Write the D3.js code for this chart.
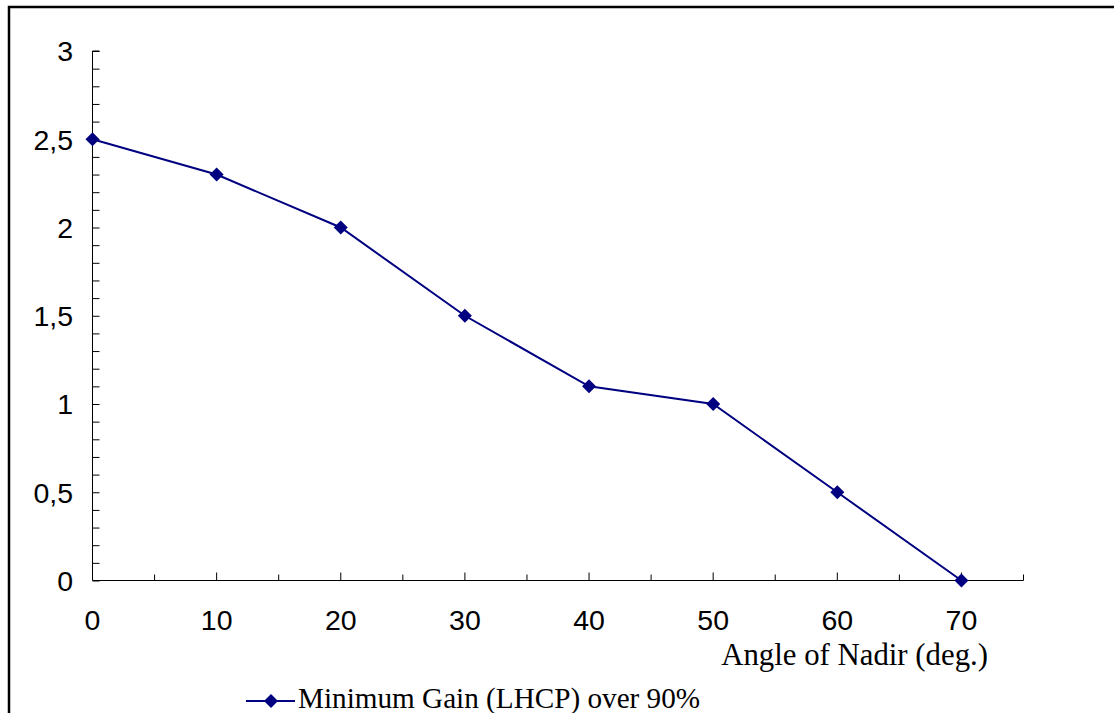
<!DOCTYPE html>
<html><head><meta charset="utf-8">
<script src="https://cdn.jsdelivr.net/npm/d3@7"></script>
<style>html,body{margin:0;padding:0;background:#fff;}svg{display:block;}</style>
</head><body>
<script>
const angles = [0, 10, 20, 30, 40, 50, 60, 70];
const gains = [2.5, 2.3, 2.0, 1.5, 1.1, 1.0, 0.5, 0.0];
const yTickValues = [0, 0.5, 1, 1.5, 2, 2.5, 3];
const xTickValues = [0, 10, 20, 30, 40, 50, 60, 70];
const seriesName = "Minimum Gain (LHCP) over 90%";
const xTitle = "Angle of Nadir (deg.)";

const W = 1114, H = 713;
const svg = d3.select("body").append("svg").attr("width", W).attr("height", H);

// outer frame
svg.append("path").attr("d", `M9,${H+5} L9,7 L${W+5},7`).attr("fill", "none")
  .attr("stroke", "#000").attr("stroke-width", 2.5);

const x = d3.scaleLinear().domain([0, 75]).range([92.5, 1023.5]);
const y = d3.scaleLinear().domain([0, 3]).range([580.5, 51]);

// y axis
const yAxis = d3.axisRight(y).tickValues(d3.range(0, 3.0001, 0.1)).tickSize(7).tickFormat("");
const gy = svg.append("g").attr("transform", `translate(${x(0)},0)`).call(yAxis);
gy.select(".domain").attr("d", `M7,${y(3)}H0V${y(0)}`);
gy.selectAll("line").attr("stroke", "#000");
gy.selectAll("path").attr("stroke", "#000");

svg.append("g").selectAll("text").data(yTickValues).join("text")
  .attr("x", 73).attr("y", d => y(d)).attr("dy", "0.36em")
  .attr("text-anchor", "end").attr("font-family", "Liberation Sans, Arial, sans-serif")
  .attr("font-size", 28.5).text(d => String(d).replace(".", ","));

// x axis
const xMinor = d3.range(5, 75.001, 10);
const gx = svg.append("g").attr("transform", `translate(0,${y(0)})`);
gx.append("line").attr("x1", x(0)).attr("x2", x(75)).attr("stroke", "#000");
gx.selectAll("line.maj").data(xTickValues.filter(d => d > 0)).join("line").attr("class", "maj")
  .attr("x1", d => x(d)).attr("x2", d => x(d)).attr("y1", 0).attr("y2", -8).attr("stroke", "#000");
gx.selectAll("line.min").data(xMinor).join("line").attr("class", "min")
  .attr("x1", d => x(d)).attr("x2", d => x(d)).attr("y1", 0).attr("y2", -6).attr("stroke", "#000");
svg.append("g").selectAll("text").data(xTickValues).join("text")
  .attr("x", d => x(d)).attr("y", 630)
  .attr("text-anchor", "middle").attr("font-family", "Liberation Sans, Arial, sans-serif")
  .attr("font-size", 28.5).text(d => d);

svg.append("text").attr("x", 988).attr("y", 665).attr("text-anchor", "end")
  .attr("font-family", "Liberation Serif, Times New Roman, serif").attr("font-size", 30.8).text(xTitle);

// series
const data = angles.map((a, i) => ({a, g: gains[i]}));
svg.append("path").datum(data).attr("fill", "none").attr("stroke", "#000080").attr("stroke-width", 2)
  .attr("d", d3.line().x(d => x(d.a)).y(d => y(d.g)));
const diamond = s => `M0,${-s}L${s},0L0,${s}L${-s},0Z`;
svg.append("g").selectAll("path").data(data).join("path")
  .attr("transform", d => `translate(${x(d.a)},${y(d.g)})`)
  .attr("d", diamond(7)).attr("fill", "#000080");

// legend
const lg = svg.append("g");
lg.append("line").attr("x1", 246).attr("x2", 295).attr("y1", 701).attr("y2", 701)
  .attr("stroke", "#000080").attr("stroke-width", 2);
lg.append("path").attr("transform", "translate(271,701)").attr("d", diamond(7)).attr("fill", "#000080");
lg.append("text").attr("x", 298).attr("y", 708).attr("font-family", "Liberation Serif, Times New Roman, serif")
  .attr("font-size", 29.2).text(seriesName);
</script>
</body></html>
